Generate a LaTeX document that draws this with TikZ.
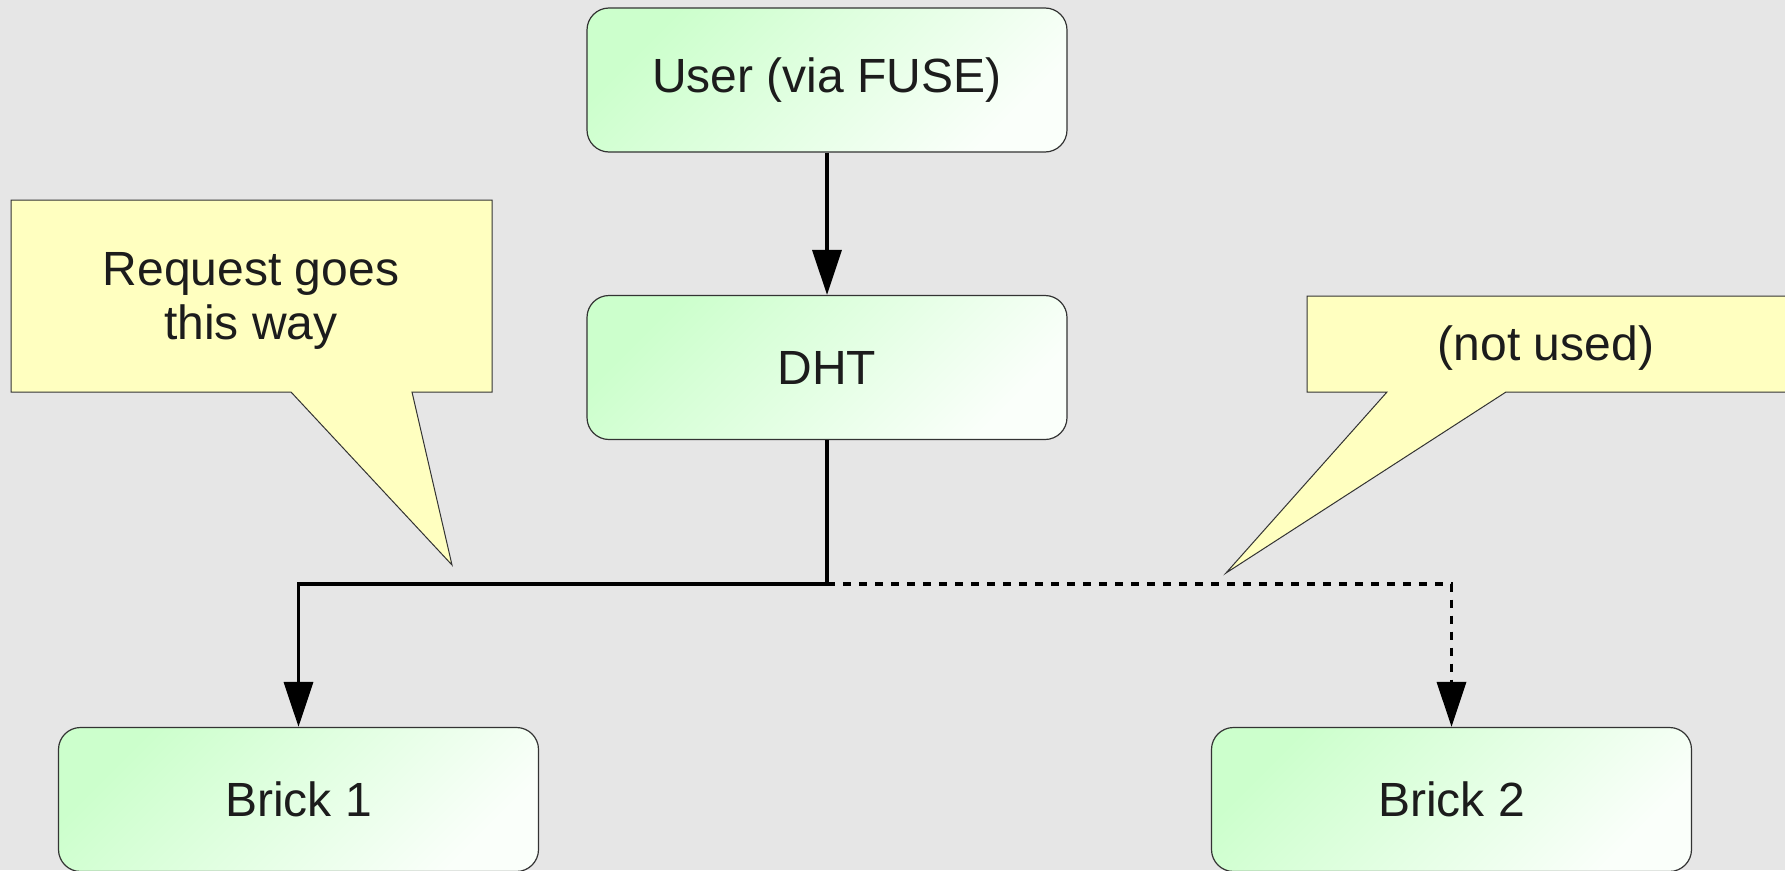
\documentclass[tikz,border=0pt]{standalone}
\usepackage{fontspec}
\setmainfont{Liberation Sans}
\usetikzlibrary{arrows.meta}
\definecolor{bg}{HTML}{E6E6E6}
\definecolor{boxgreen}{HTML}{CCFFCC}
\definecolor{boxwhite}{HTML}{FAFFFA}
\definecolor{notefill}{HTML}{FFFFC0}
\definecolor{edgegrey}{HTML}{333333}
\definecolor{ink}{HTML}{1C1C1C}
\tikzset{
  stagebox/.style={draw=edgegrey, line width=1.2pt, rounded corners=22pt,
    minimum width=480pt, minimum height=144pt, inner sep=0pt,
    top color=boxgreen, bottom color=boxwhite, shading angle=45,
    text=ink, font=\fontsize{48}{55}\selectfont},
  notebubble/.style={draw=edgegrey, line width=1pt, fill=notefill, line join=miter},
  notetext/.style={text=ink, font=\fontsize{48}{54}\selectfont, align=center, inner sep=0pt},
  conn/.style={line width=3.5pt, draw=black, -{Triangle[length=45pt,width=29pt]}},
  unusedconn/.style={conn, dash pattern=on 8pt off 8pt}
}
\begin{document}
\begin{tikzpicture}[x=1pt,y=-1pt]
  \useasboundingbox (0,0) rectangle (1785,870);
  \clip (0,0) rectangle (1785,870);
  \fill[bg] (0,0) rectangle (1785,870);

  % callout bubbles
  \draw[notebubble] (11,200) -- (492,200) -- (492,392) -- (412,392) -- (452,565)
    -- (291,392) -- (11,392) -- cycle;
  \node[notetext] (noteA) at (251,301) {Request goes\\this way};
  \draw[notebubble] (1307,296) -- (1790,296) -- (1790,392) -- (1506,392) -- (1226,573)
    -- (1387,392) -- (1307,392) -- cycle;
  \node[notetext] (noteB) at (1546,348) {(not used)};

  % stages
  \node[stagebox] (user) at (827,80) {\raisebox{-3pt}{User (via FUSE)}};
  \node[stagebox] (dht) at (827,367.5) {\raisebox{-1pt}{DHT}};
  \node[stagebox] (b1) at (298.5,799.5) {\raisebox{-1pt}{Brick 1}};
  \node[stagebox] (b2) at (1451.5,799.5) {\raisebox{-1pt}{Brick 2}};

  % request paths
  \coordinate (split) at (827,584);
  \draw[conn] (user) -- (dht);
  \draw[unusedconn] (dht.south) -- (split) -| (b2.north);
  \draw[conn] (dht.south) -- (split) -| (b1.north);
\end{tikzpicture}
\end{document}
